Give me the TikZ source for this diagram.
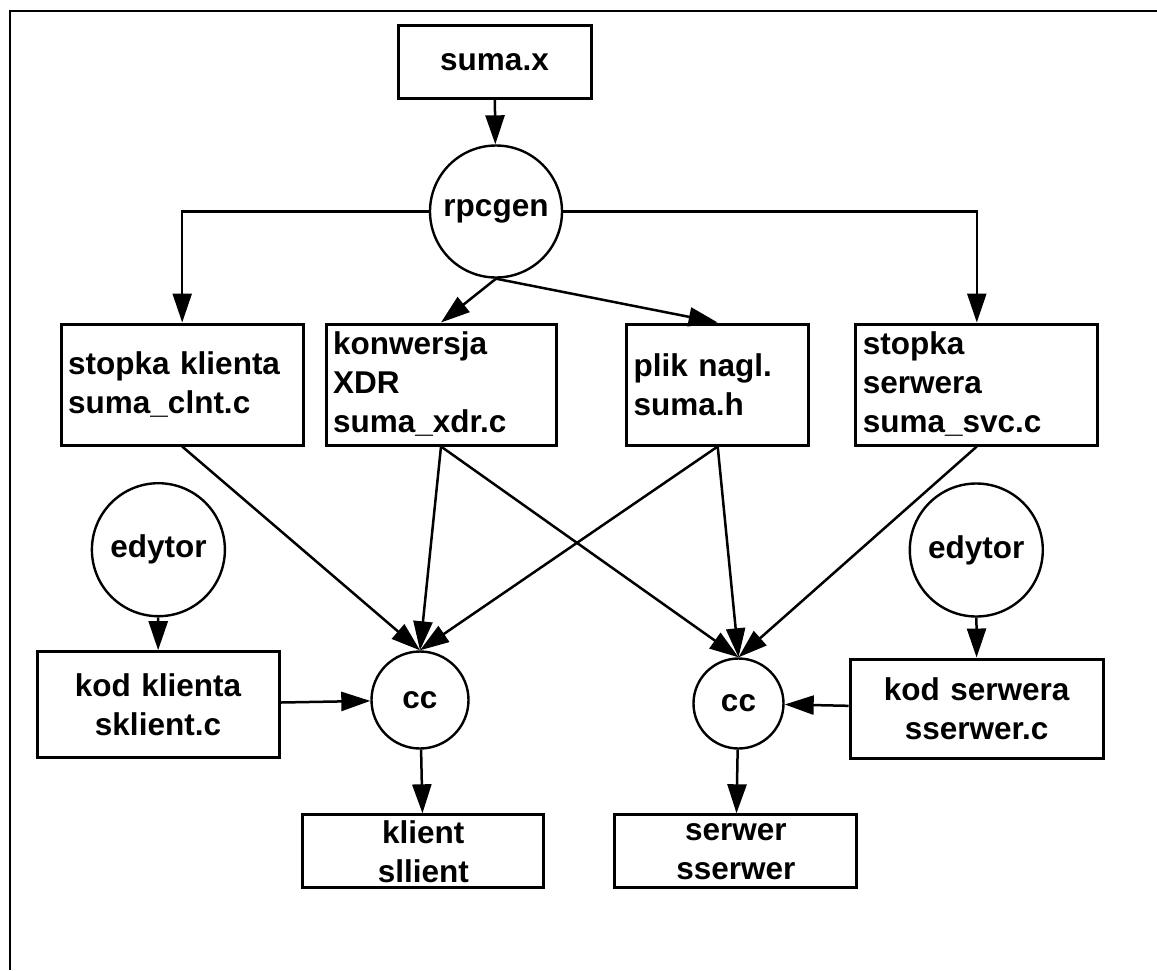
\documentclass[tikz,border=0pt]{standalone}
\usepackage{fontspec}
\setmainfont{Liberation Sans}
\usetikzlibrary{arrows.meta}
\begin{document}
\begin{tikzpicture}[x=1pt,y=-1pt,
  every node/.style={font=\fontsize{31.5}{39}\selectfont\bfseries},
  filebox/.style={draw, line width=3pt, inner xsep=7pt, inner ysep=0pt},
  leftbox/.style={filebox, align=left},
  midbox/.style={filebox, align=center},
  proc/.style={draw, circle, line width=2.4pt, inner sep=0pt},
  arr/.style={line width=2.5pt, -{Triangle[length=29pt,width=19pt]}},
  frameline/.style={line width=2.4pt, line join=miter}]
\useasboundingbox (0,0) rectangle (1157,970);

% partial frame: top and left edges only
\draw[frameline] (10,970) -- (10,11) -- (1157,11);

% input file and generator
\node[midbox, minimum width=193pt, minimum height=72.6pt] (src) at (494.5,62) {suma.x};
\node[proc, minimum size=132pt] (rpc) at (496,211.5) {rpcgen};

% generated files
\node[leftbox, text width=228pt, minimum height=121pt] (stk) at (182.2,384.5) {stopka klienta\\suma\_clnt.c};
\node[leftbox, text width=216pt, minimum height=121pt] (kxdr) at (441,384.5) {konwersja\\XDR\\suma\_xdr.c};
\node[leftbox, text width=168pt, minimum height=121pt] (plik) at (717.7,384.5) {plik nagl.\\suma.h};
\node[leftbox, text width=228pt, minimum height=121pt] (sts) at (976.8,384.5) {stopka\\serwera\\suma\_svc.c};

% editors and hand-written sources
\node[proc, minimum size=133pt] (edl) at (158.4,549.7) {edytor};
\node[proc, minimum size=133pt] (edr) at (976.3,550) {edytor};
\node[midbox, text width=228pt, minimum height=106pt] (kk) at (158,704.7) {kod klienta\\sklient.c};
\node[midbox, text width=239pt, minimum height=99pt] (ks) at (976.7,708.5) {kod serwera\\sserwer.c};

% compilers
\node[proc, minimum size=97pt] (ccl) at (420,700) {cc};
\node[proc, minimum size=90pt] (ccr) at (738.5,703.5) {cc};

% executables
\node[midbox, text width=227pt, minimum height=73pt] (kl) at (423.3,851.3) {klient\\sllient};
\node[midbox, text width=228pt, minimum height=73pt] (sv) at (735.8,851.3) {serwer\\sserwer};

% connectors
\draw[arr] (src) -- (rpc);
\draw[arr] (rpc.west) -| (stk.north);
\draw[arr] (rpc.east) -| (sts.north);
\draw[arr] (rpc.south) -- (kxdr.north);
\draw[arr] (rpc.south) -- (plik.north);

\draw[arr] (stk.south) -- (ccl.north);
\draw[arr] (kxdr.south) -- (ccl.north);
\draw[arr] (plik.south) -- (ccl.north);
\draw[arr] (kxdr.south) -- (ccr.north);
\draw[arr] (plik.south) -- (ccr.north);
\draw[arr] (sts.south) -- (ccr.north);

\draw[arr] (edl) -- (kk);
\draw[arr] (edr) -- (ks);
\draw[arr] (kk) -- (ccl);
\draw[arr] (ks) -- (ccr);
\draw[arr] (ccl) -- (kl);
\draw[arr] (ccr) -- (sv);
\end{tikzpicture}
\end{document}
